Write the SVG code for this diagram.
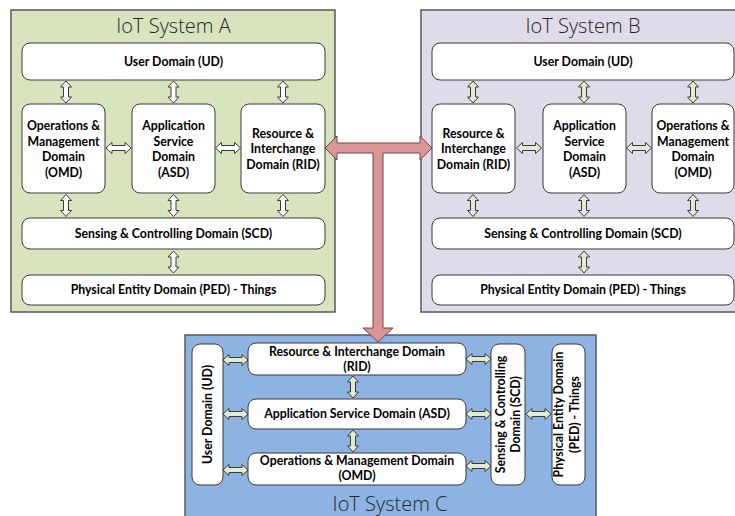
<svg xmlns="http://www.w3.org/2000/svg" xmlns:xlink="http://www.w3.org/1999/xlink" width="735" height="516" viewBox="0 0 735 516">
<style>
.sys{stroke:#595959;stroke-width:1.5}
.node{fill:#ffffff;stroke:#3a3a3a;stroke-width:1}
.t{font-family:Lato,"Liberation Sans",sans-serif;font-weight:bold;font-size:12.3px;fill:#000;text-anchor:middle}
.title{font-family:"Open Sans","Liberation Sans",sans-serif;font-weight:300;font-size:20px;fill:#262626;text-anchor:middle}
.aw{fill:#ffffff;stroke:#3a3a3a;stroke-width:1}
.ag{fill:#e4ead0;stroke:#3a3a3a;stroke-width:1}
</style>
<defs>
<path id="va" d="M0,-11 L5.5,-5 L2.5,-5 L2.5,5 L5.5,5 L0,11 L-5.5,5 L-2.5,5 L-2.5,-5 L-5.5,-5 Z"/>
<path id="ha" d="M-12.5,0 L-6.5,-5.5 L-6.5,-2.5 L6.5,-2.5 L6.5,-5.5 L12.5,0 L6.5,5.5 L6.5,2.5 L-6.5,2.5 L-6.5,5.5 Z"/>
</defs>

<g id="systemA">
<rect class="sys" x="11" y="10" width="324" height="302" fill="#d7e4bd"/>
<text class="title" x="173.5" y="33">IoT System A</text>
</g>
<g id="systemB">
<rect class="sys" x="421" y="10" width="330" height="302" fill="#dfdbe9"/>
<text class="title" x="583" y="33">IoT System B</text>
</g>
<g id="systemC">
<rect class="sys" x="185" y="335" width="411" height="190" fill="#8db3e2"/>
<text class="title" x="390" y="511">IoT System C</text>
</g>

<g id="connectors">
<!-- System A -->
<use xlink:href="#va" class="aw" x="66" y="92"/>
<use xlink:href="#va" class="aw" x="173.5" y="92"/>
<use xlink:href="#va" class="aw" x="283" y="92"/>
<use xlink:href="#va" class="aw" x="66" y="205.5"/>
<use xlink:href="#va" class="aw" x="173.5" y="205.5"/>
<use xlink:href="#va" class="aw" x="283" y="205.5"/>
<use xlink:href="#va" class="aw" x="173.5" y="262"/>
<use xlink:href="#ha" class="aw" x="118.5" y="148"/>
<use xlink:href="#ha" class="aw" x="228" y="148"/>
<!-- System B -->
<use xlink:href="#va" class="ag" x="473" y="92"/>
<use xlink:href="#va" class="ag" x="584" y="92"/>
<use xlink:href="#va" class="ag" x="693" y="92"/>
<use xlink:href="#va" class="ag" x="473" y="205.5"/>
<use xlink:href="#va" class="ag" x="584" y="205.5"/>
<use xlink:href="#va" class="ag" x="693" y="205.5"/>
<use xlink:href="#va" class="ag" x="584" y="262"/>
<use xlink:href="#ha" class="ag" x="529" y="148"/>
<use xlink:href="#ha" class="ag" x="639" y="148"/>
<!-- System C -->
<use xlink:href="#ha" class="ag" x="235.5" y="360"/>
<use xlink:href="#ha" class="ag" x="235.5" y="414"/>
<use xlink:href="#ha" class="ag" x="235.5" y="470"/>
<use xlink:href="#ha" class="ag" x="478.5" y="359"/>
<use xlink:href="#ha" class="ag" x="478.5" y="414"/>
<use xlink:href="#ha" class="ag" x="478.5" y="466"/>
<use xlink:href="#ha" class="ag" x="538.5" y="414"/>
<use xlink:href="#va" class="ag" x="353" y="387"/>
<use xlink:href="#va" class="ag" x="353" y="441"/>
<!-- Inter-system T arrow -->
<path d="M325,148 L337,136 L337,143 L420,143 L420,136 L432,148 L420,160 L420,153 L383,153 L383,328 L393,328 L378,342 L363,328 L373,328 L373,153 L337,153 L337,160 Z" fill="#d99694" stroke="#6e4a49" stroke-width="1"/>
</g>

<!-- System A nodes -->
<g id="A-UD"><rect class="node" x="22" y="43" width="303" height="37" rx="8"/><text class="t" x="173.5" y="66">User Domain (UD)</text></g>
<g id="A-OMD"><rect class="node" x="22" y="104" width="83" height="89" rx="8"/><text class="t" x="63.5" y="130">Operations &amp;</text><text class="t" x="63.5" y="145.5">Management</text><text class="t" x="63.5" y="161">Domain</text><text class="t" x="63.5" y="176.5">(OMD)</text></g>
<g id="A-ASD"><rect class="node" x="132" y="104" width="83" height="89" rx="8"/><text class="t" x="173.5" y="130">Application</text><text class="t" x="173.5" y="145.5">Service</text><text class="t" x="173.5" y="161">Domain</text><text class="t" x="173.5" y="176.5">(ASD)</text></g>
<g id="A-RID"><rect class="node" x="241" y="104" width="84" height="89" rx="8"/><text class="t" x="283" y="137.5">Resource &amp;</text><text class="t" x="283" y="153">Interchange</text><text class="t" x="283" y="168.5">Domain (RID)</text></g>
<g id="A-SCD"><rect class="node" x="22" y="218" width="303" height="31" rx="8"/><text class="t" x="173.5" y="237.5">Sensing &amp; Controlling Domain (SCD)</text></g>
<g id="A-PED"><rect class="node" x="22" y="275" width="303" height="30" rx="8"/><text class="t" x="173.5" y="294">Physical Entity Domain (PED) - Things</text></g>

<!-- System B nodes -->
<g id="B-UD"><rect class="node" x="432" y="43" width="302" height="37" rx="8"/><text class="t" x="583" y="66">User Domain (UD)</text></g>
<g id="B-RID"><rect class="node" x="432" y="104" width="83" height="89" rx="8"/><text class="t" x="473.5" y="137.5">Resource &amp;</text><text class="t" x="473.5" y="153">Interchange</text><text class="t" x="473.5" y="168.5">Domain (RID)</text></g>
<g id="B-ASD"><rect class="node" x="543" y="104" width="83" height="89" rx="8"/><text class="t" x="584.5" y="130">Application</text><text class="t" x="584.5" y="145.5">Service</text><text class="t" x="584.5" y="161">Domain</text><text class="t" x="584.5" y="176.5">(ASD)</text></g>
<g id="B-OMD"><rect class="node" x="652" y="104" width="82" height="89" rx="8"/><text class="t" x="693" y="130">Operations &amp;</text><text class="t" x="693" y="145.5">Management</text><text class="t" x="693" y="161">Domain</text><text class="t" x="693" y="176.5">(OMD)</text></g>
<g id="B-SCD"><rect class="node" x="432" y="218" width="302" height="31" rx="8"/><text class="t" x="583" y="237.5">Sensing &amp; Controlling Domain (SCD)</text></g>
<g id="B-PED"><rect class="node" x="432" y="275" width="302" height="30" rx="8"/><text class="t" x="583" y="294">Physical Entity Domain (PED) - Things</text></g>

<!-- System C nodes -->
<g id="C-UD"><rect class="node" x="192" y="344" width="31" height="141" rx="8"/><text class="t" transform="translate(212,414.5) rotate(-90)">User Domain (UD)</text></g>
<g id="C-RID"><rect class="node" x="248" y="343" width="218" height="32" rx="8"/><text class="t" x="357" y="355.5">Resource &amp; Interchange Domain</text><text class="t" x="357" y="370.5">(RID)</text></g>
<g id="C-ASD"><rect class="node" x="248" y="399" width="218" height="30" rx="8"/><text class="t" x="357" y="418">Application Service Domain (ASD)</text></g>
<g id="C-OMD"><rect class="node" x="248" y="453" width="218" height="32" rx="8"/><text class="t" x="357" y="464.5">Operations &amp; Management Domain</text><text class="t" x="357" y="479.5">(OMD)</text></g>
<g id="C-SCD"><rect class="node" x="491" y="344" width="34" height="141" rx="8"/><text class="t" transform="translate(504.5,414.5) rotate(-90)">Sensing &amp; Controlling</text><text class="t" transform="translate(520,414.5) rotate(-90)">Domain (SCD)</text></g>
<g id="C-PED"><rect class="node" x="552" y="344" width="33" height="141" rx="8"/><text class="t" transform="translate(563,414.5) rotate(-90)">Physical Entity Domain</text><text class="t" transform="translate(578.5,414.5) rotate(-90)">(PED) - Things</text></g>
</svg>
